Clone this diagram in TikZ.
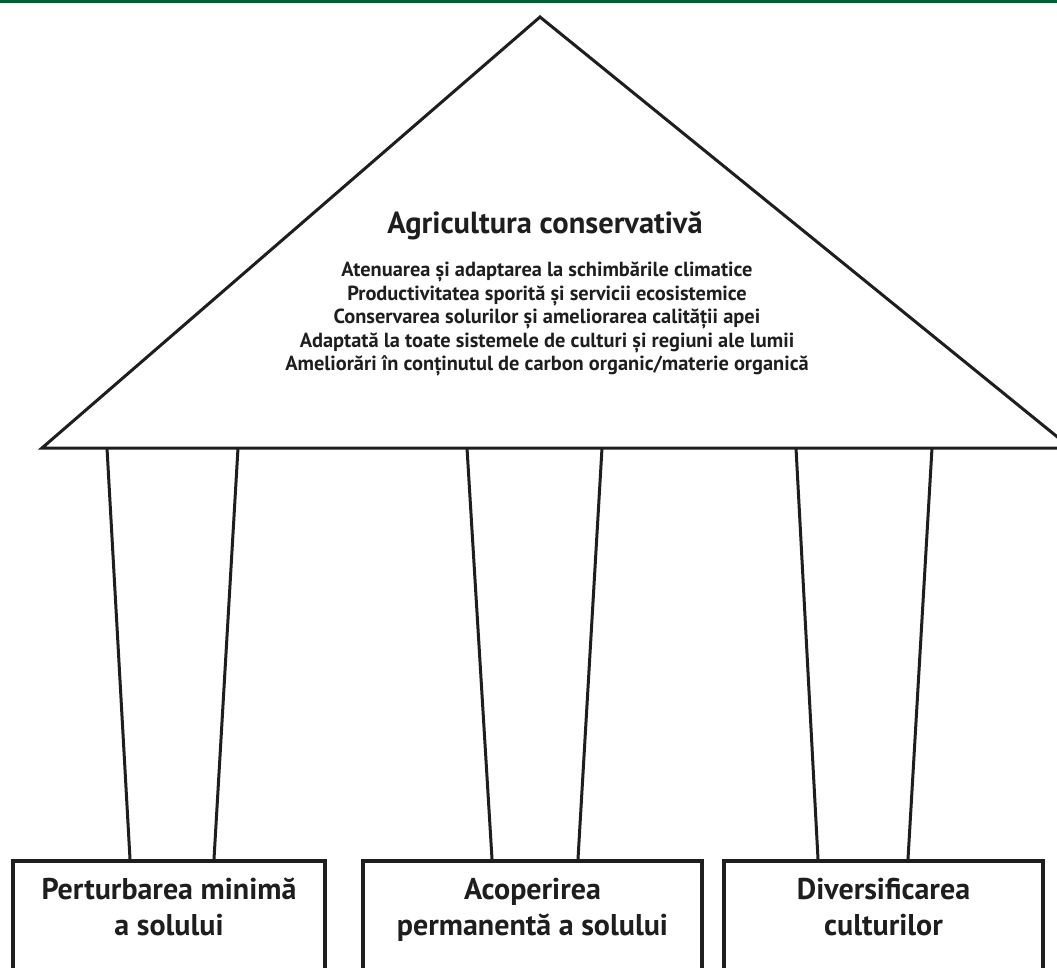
\documentclass[tikz,border=0pt]{standalone}
\usepackage{fontspec}
\setmainfont{PT Sans}
\usepackage{xcolor}
\usepackage{tikz}
\usetikzlibrary{positioning}

\definecolor{bandgreen}{RGB}{0,96,52}
\definecolor{ink}{RGB}{30,30,30}

\begin{document}
\begin{tikzpicture}[
  x=1pt, y=-1pt,
  roof/.style={draw=ink,line width=3pt,line join=miter},
  post/.style={draw=ink,line width=3pt},
  base/.style={draw=ink,line width=4pt,anchor=north,minimum height=160pt,inner sep=0pt},
  basetext/.style={align=center,inner sep=0pt,font=\bfseries\fontsize{30}{36}\selectfont,text=ink},
  title/.style={inner sep=0pt,font=\bfseries\fontsize{30.5}{34}\selectfont,text=ink},
  gains/.style={align=center,inner sep=0pt,font=\bfseries\fontsize{20.4}{23.5}\selectfont,text=ink},
]
\useasboundingbox (0,0) rectangle (1057,968);
\clip (0,0) rectangle (1057,968);
\fill[white] (0,0) rectangle (1057,968);
\fill[bandgreen] (0,0) rectangle (1057,3);

% roof
\draw[roof] (42,448) -- (540,17) -- (1071,448) -- cycle;
\node[title,anchor=base] (ca) at (545,234) {Agricultura conservativă};
\node[gains,anchor=north] (benefits) at (547,262) {Atenuarea și adaptarea la schimbările climatice\\
  Productivitatea sporită și servicii ecosistemice\\
  Conservarea solurilor și ameliorarea calității apei\\
  Adaptată la toate sistemele de culturi și regiuni ale lumii\\
  Ameliorări în conținutul de carbon organic/materie organică};

% bases
\node[base,minimum width=312pt] (soil) at (169,859) {};
\node[base,minimum width=339pt] (cover) at (532.5,859) {};
\node[base,minimum width=319pt] (crops) at (883.5,859) {};
\node[basetext,below=19pt of soil.north] (soiltxt) {Perturbarea minimă\\a solului};
\node[basetext,below=19pt of cover.north] (covertxt) {Acoperirea\\permanentă a solului};
\node[basetext,below=19pt of crops.north] (cropstxt) {Diversificarea\\culturilor};

% pillars
\draw[post] (107,448) -- (130,0 |- soil.north);
\draw[post] (238,448) -- (214,0 |- soil.north);
\draw[post] (467,448) -- (492,0 |- cover.north);
\draw[post] (602,448) -- (578,0 |- cover.north);
\draw[post] (796,448) -- (818,0 |- crops.north);
\draw[post] (932,448) -- (908,0 |- crops.north);
\end{tikzpicture}
\end{document}
